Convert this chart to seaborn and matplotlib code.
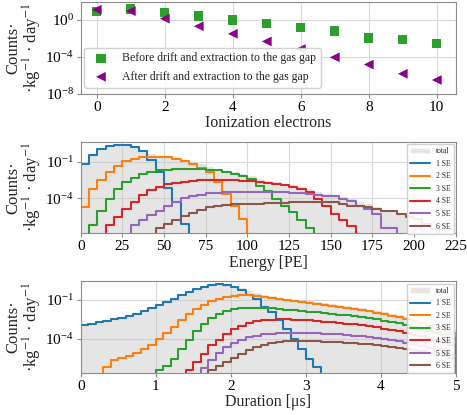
import numpy as np
import seaborn as sns
import matplotlib
matplotlib.use('Agg')
from matplotlib import pyplot as plt
from matplotlib.lines import Line2D
from matplotlib.patches import Patch
from matplotlib.ticker import FixedLocator, NullLocator

# top panel: counts per ionization electron number
n_electrons = [0, 1, 2, 3, 4, 5, 6, 7, 8, 9, 10]
before_drift = [8.5, 15, 6.6, 2.7, 1.0, 0.41, 0.16, 0.062, 0.0117, 0.0072, 0.0029]
after_drift = [13, 9.1, 1.4, 0.21, 0.032, 0.0048, 7.2e-4, 9.1e-5, 1.5e-5, 1.5e-6, 3.2e-7]

# energy histograms, 5 PE bins, values are log10(counts)
energy_start = [0, 0, 5, 15, 30, 45]
energy_1se = [-1.2, -0.4, 0.05, 0.33, 0.4, 0.38, 0.25, -0.1, -0.8, -1.8, -3.1, -4.3, -6.1]
energy_2se = [-4.7, -3.2, -2.5, -1.8, -1.3, -0.95, -0.75, -0.6, -0.55, -0.55, -0.62, -0.75,
              -0.9, -1.15, -1.45, -1.85, -2.65, -3.6, -4.6, -5.7]
energy_3se = [-6.16, -5.0, -4.05, -3.24, -2.65, -2.3, -1.97, -1.81, -1.68, -1.62, -1.57, -1.55,
              -1.55, -1.57, -1.62, -1.68, -1.81, -1.97, -2.16, -2.43, -2.97, -3.38, -4.05, -4.6,
              -5.1, -5.8, -6.4]
energy_4se = [-6.16, -5.54, -4.86, -4.27, -3.73, -3.3, -3.03, -2.84, -2.70, -2.62, -2.57, -2.51,
              -2.51, -2.49, -2.49, -2.51, -2.54, -2.57, -2.62, -2.70, -2.78, -2.89, -3.03, -3.24,
              -3.51, -4.05, -4.6, -5.27, -5.81, -6.27]
energy_5se = [-6.16, -5.81, -5.4, -5.0, -4.6, -4.27, -4.0, -3.78, -3.68, -3.59, -3.54, -3.51,
              -3.51, -3.51, -3.51, -3.51, -3.51, -3.51, -3.51, -3.54, -3.56, -3.62, -3.68, -3.78,
              -3.84, -4.05, -4.19, -4.6, -4.86, -5.27, -6.43, -6.43, None, None, -6.5, None]
energy_6se = [-6.43, -6.08, -5.81, -5.46, -5.19, -4.92, -4.73, -4.59, -4.51, -4.46, -4.46, -4.43,
              -4.43, -4.41, -4.38, -4.35, -4.32, -4.32, -4.32, -4.30, -4.30, -4.32, -4.46, -4.59,
              -4.59, -4.73, -4.86, -5.0, -5.0, -5.27, -5.54, -5.67, -6.08, -6.49]

# duration histograms, 0.1 us bins, log10(counts)
duration_start = [0.0, 0.3, 1.0, 1.4, 1.6, 1.7]
duration_1se = [-2.97, -2.85, -2.72, -2.64, -2.51, -2.38, -2.26, -2.08, -1.87, -1.64, -1.38, -1.18,
                -0.92, -0.62, -0.41, -0.21, -0.03, 0.1, 0.18, 0.12, -0.03, -0.28, -0.62, -0.97,
                -1.56, -1.95, -2.59, -3.23, -4.0, -4.77, -5.54, -6.18]
duration_2se = [-6.18, -5.67, -5.49, -5.33, -5.08, -4.82, -4.46, -4.0, -3.56, -3.1, -2.59, -2.08,
                -1.69, -1.38, -1.1, -0.92, -0.79, -0.72, -0.67, -0.67, -0.72, -0.77, -0.85, -0.92,
                -1.0, -1.08, -1.15, -1.23, -1.31, -1.38, -1.46, -1.54, -1.62, -1.69, -1.79, -1.9,
                -2.0, -2.1, -2.23, -2.36, -2.51, -2.67, -2.82, -3.0, -3.18, -3.36, -3.56]
duration_3se = [-6.44, -6.1, -5.54, -4.77, -4.13, -3.44, -2.85, -2.41, -2.08, -1.87, -1.74, -1.67,
                -1.62, -1.62, -1.64, -1.67, -1.72, -1.77, -1.82, -1.87, -1.92, -1.97, -2.03, -2.08,
                -2.15, -2.21, -2.28, -2.36, -2.44, -2.51, -2.62, -2.72, -2.82, -2.95, -3.08, -3.23,
                -3.38, -3.56, -3.74, -3.92]
duration_4se = [-6.44, -5.79, -5.15, -4.51, -4.13, -3.67, -3.28, -3.0, -2.79, -2.67, -2.59, -2.54,
                -2.51, -2.51, -2.54, -2.56, -2.59, -2.64, -2.69, -2.74, -2.79, -2.85, -2.9, -2.97,
                -3.05, -3.13, -3.23, -3.33, -3.44, -3.56, -3.69, -3.82, -3.97, -4.13, -4.31, -4.51]
duration_5se = [-6.26, -5.67, -5.08, -4.64, -4.31, -4.08, -3.9, -3.77, -3.67, -3.62, -3.56, -3.54,
                -3.54, -3.54, -3.56, -3.59, -3.62, -3.64, -3.67, -3.72, -3.77, -3.82, -3.87, -3.95,
                -4.03, -4.1, -4.21, -4.31, -4.44, -4.56, -4.69, -4.85, -5.03, -5.23]
duration_6se = [-6.44, -6.1, -5.79, -5.46, -5.18, -4.9, -4.67, -4.49, -4.36, -4.26, -4.21, -4.15,
                -4.15, -4.18, -4.21, -4.23, -4.26, -4.26, -4.31, -4.33, -4.38, -4.44, -4.49, -4.54,
                -4.62, -4.69, -4.77, -4.87, -4.97, -5.08, -5.21, -5.33, -5.49]

se_labels = ['1 SE', '2 SE', '3 SE', '4 SE', '5 SE', '6 SE']
se_colors = sns.color_palette('tab10', 6)

sns.set_style('whitegrid', {'axes.edgecolor': '0.55', 'grid.color': '0.85',
                            'xtick.bottom': True, 'ytick.left': True})
plt.rcParams['font.family'] = ['Liberation Serif', 'DejaVu Serif']
plt.rcParams['mathtext.fontset'] = 'stix'
plt.rcParams['xtick.color'] = '0.55'
plt.rcParams['ytick.color'] = '0.55'
plt.rcParams['xtick.labelcolor'] = 'black'
plt.rcParams['ytick.labelcolor'] = 'black'

ylab = 'Counts·\n·kg$^{-1}$ · day$^{-1}$'


def fill_bins(edges, start, logs):
    w = np.zeros(len(edges) - 1)
    i0 = int(round((start - edges[0]) / (edges[1] - edges[0])))
    vals = [0.0 if v is None else 10.0 ** v for v in logs]
    w[i0:i0 + len(vals)] = vals
    return w


def set_ylab(ax):
    ax.set_ylabel(ylab, fontsize=12, labelpad=1, linespacing=0.95)


def hist_panel(ax, edges, starts, series, xlabel):
    centers = (edges[:-1] + edges[1:]) / 2
    ws = [fill_bins(edges, s, v) for s, v in zip(starts, series)]
    total = np.sum(ws, axis=0)
    sns.histplot(x=list(centers), weights=list(total), bins=list(edges), element='step',
                 fill=True, color='0.78', alpha=0.45, linewidth=0, ax=ax)
    for w, c in zip(ws, se_colors):
        sns.histplot(x=list(centers), weights=list(w), bins=list(edges), element='step',
                     fill=False, color=c, linewidth=1.5, ax=ax)
    ax.set_yscale('log')
    ax.set_xlabel(xlabel, fontsize=11.5, labelpad=1)
    set_ylab(ax)
    ax.yaxis.set_major_locator(FixedLocator([1e-4, 1e-1]))
    ax.yaxis.set_minor_locator(NullLocator())
    handles = [Patch(facecolor='0.78', alpha=0.45, label='total')]
    handles += [Line2D([], [], color=c, lw=1.5, label=l) for c, l in zip(se_colors, se_labels)]
    ax.legend(handles=handles, loc='upper right', fontsize=5.5, handlelength=2.6,
              labelspacing=0.6, borderaxespad=0.3, framealpha=0.9, edgecolor='0.8')


fig, axes = plt.subplots(3, 1, figsize=(4.67, 4.15), dpi=100)
fig.subplots_adjust(left=0.173, right=0.976, top=0.995, bottom=0.101, hspace=0.52)

# top
ax = axes[0]
sns.scatterplot(x=n_electrons, y=before_drift, marker='s', color='#2ca02c', s=45,
                edgecolor='none', label='Before drift and extraction to the gas gap', ax=ax)
sns.scatterplot(x=n_electrons, y=after_drift, marker='<', color='darkmagenta', s=50,
                edgecolor='none', label='After drift and extraction to the gas gap', ax=ax)
ax.set_yscale('log')
ax.set_ylim(1e-8, 10 ** 1.94)
ax.set_xlim(-0.47, 10.56)
ax.set_xticks([0, 2, 4, 6, 8, 10])
ax.yaxis.set_major_locator(FixedLocator([1e-8, 1e-4, 1e0]))
ax.yaxis.set_minor_locator(NullLocator())
ax.set_xlabel('Ionization electrons', fontsize=11.5, labelpad=1)
set_ylab(ax)
ax.legend(loc='lower left', fontsize=8.5, bbox_to_anchor=(0.0, 0.03), framealpha=0.9,
          edgecolor='0.8', borderaxespad=0.3, labelspacing=0.55)

# energy
energy_edges = np.arange(0, 235, 5).astype(float)
hist_panel(axes[1], energy_edges, energy_start,
           [energy_1se, energy_2se, energy_3se, energy_4se, energy_5se, energy_6se],
           'Energy [PE]')
axes[1].set_xlim(0, 225)
axes[1].set_xticks(np.arange(0, 226, 25))
axes[1].set_ylim(10 ** -6.89, 10 ** 0.68)

# duration
duration_edges = np.round(np.arange(0, 5.15, 0.1), 2)
hist_panel(axes[2], duration_edges, duration_start,
           [duration_1se, duration_2se, duration_3se, duration_4se, duration_5se, duration_6se],
           'Duration [μs]')
axes[2].set_xlim(0, 5)
axes[2].set_xticks([0, 1, 2, 3, 4, 5])
axes[2].set_ylim(10 ** -6.64, 10 ** 0.41)

for ax in axes:
    ax.tick_params(labelsize=11, length=3, pad=2)
fig.align_ylabels(axes)

fig.savefig('out.png', dpi=100)
